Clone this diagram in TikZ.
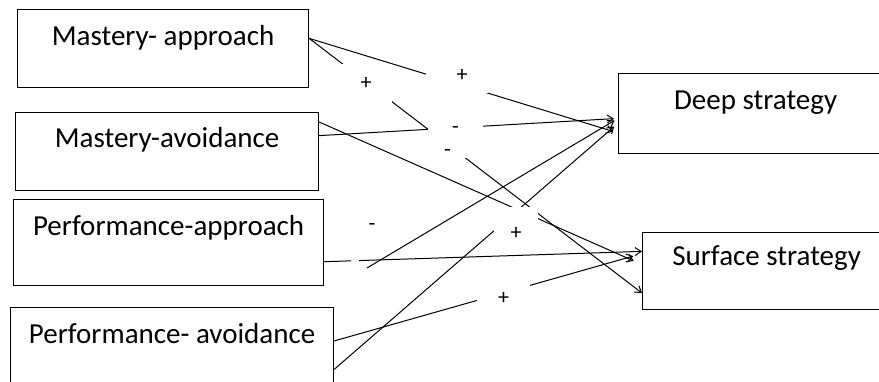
\documentclass[tikz,border=0pt]{standalone}
\usepackage{fontspec}
\setmainfont{Carlito}
\usetikzlibrary{arrows.meta,calc}
\newcommand{\lowered}[1]{\raisebox{-5pt}[\height][\depth]{#1}}

\begin{document}
\begin{tikzpicture}[x=1pt,y=-1pt]
\tikzset{goal/.style={draw, line width=1.2pt, anchor=north west, inner ysep=0pt,
font=\fontsize{29}{31}\selectfont}}
\tikzset{link/.style={draw, line width=1pt, -{Straight Barb[length=6pt,width=8pt]}}}
\tikzset{signbox/.style={fill=white, inner sep=0pt, font=\fontsize{22}{22}\selectfont}}
\useasboundingbox (0,0) rectangle (879,381);
\clip (0,0) rectangle (879,381);

\node[goal, minimum width=291pt, text height=36pt, text depth=42pt] (mapp) at (17,9) {Mastery- approach};
\node[goal, minimum width=303pt, text height=35pt, text depth=43pt] (mavo) at (15,112) {Mastery-avoidance};
\node[goal, minimum width=310pt, text height=36pt, text depth=50pt] (papp) at (13,199) {Performance-approach};
\node[goal, minimum width=323pt, text height=36pt, text depth=42pt] (pavo) at (10,307) {Performance- avoidance};
\node[goal, minimum width=274pt, text height=36pt, text depth=44pt] (deep) at (618,73) {Deep strategy};
\node[goal, minimum width=248pt, text height=33pt, text depth=44pt] (surf) at (642,232) {Surface strategy};

\draw[link, shorten >=5pt] (mapp.4.3) -- (deep.188.1);
\draw[link] (mapp.4.3) -- (surf.190.3);
\draw[link, shorten >=4pt] (mavo.6) -- (deep.182);
\draw[link, shorten >=9pt] (mavo.11.6) -- (surf.177.9);
\draw[line width=1pt] (papp.-7.6) -- ($(papp.-7.6)!0.085!(surf.171.1)$);
\draw[link] ($(papp.-7.6)!0.11!(surf.171.1)$) -- (surf.171.1);
\coordinate (free) at (367,268);
\draw[link, shorten >=4pt] (free) -- (deep.182.8);
\draw[link, shorten >=5pt] (pavo.-8.1) -- (deep.184);
\draw[link, shorten >=9pt] (pavo.2.8) -- (surf.172.7);

\node[signbox, minimum width=62pt, minimum height=35pt] (s1) at (457,75.5) {\hspace*{10pt}+};
\node[signbox, minimum width=52pt, minimum height=39pt] (s2) at (366,83.5) {+};
\node[signbox, minimum width=55pt, minimum height=26pt] (s3) at (455.5,125) {\lowered{-}};
\node[signbox, minimum width=39pt, minimum height=21pt] (s4) at (447.5,147.5) {\lowered{-}};
\node[signbox] (s5) at (372,222) {\lowered{-}};
\node[signbox, minimum width=44pt, minimum height=43pt] (s6) at (516,228.5) {\lowered{+}};
\node[signbox, minimum width=53pt, minimum height=33pt] (s7) at (503.5,298.5) {+};
\end{tikzpicture}
\end{document}
